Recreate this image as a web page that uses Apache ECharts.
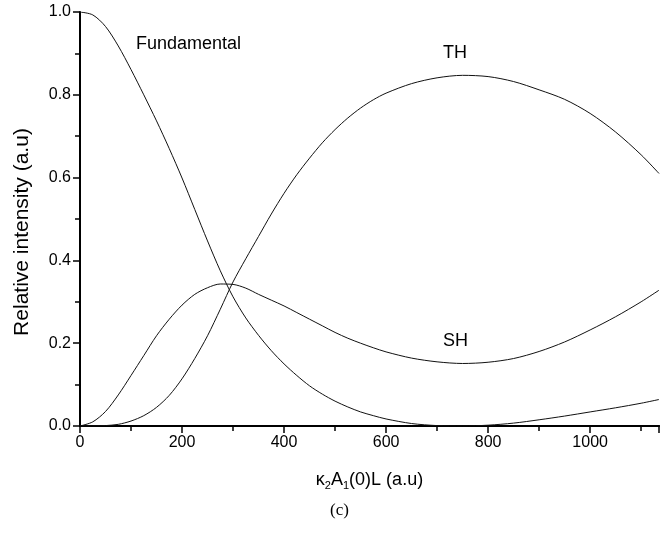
<!DOCTYPE html>
<html>
<head>
<meta charset="utf-8">
<script src="https://cdn.jsdelivr.net/npm/echarts@6/dist/echarts.min.js"></script>
<style>
html,body{margin:0;padding:0;background:#fff;}
#chart{width:662px;height:537px;}
</style>
</head>
<body>
<div id="chart"></div>
<script>
var xValues = [0,25,50,75,100,125,150,175,200,225,250,275,300,325,350,375,400,425,450,475,500,525,550,575,600,650,700,750,800,850,900,950,1000,1050,1100,1135];
var fundamental = [1.000,0.993,0.965,0.918,0.861,0.800,0.737,0.670,0.599,0.523,0.447,0.375,0.312,0.261,0.219,0.182,0.150,0.122,0.097,0.077,0.060,0.046,0.034,0.025,0.017,0.006,0.001,0.000,0.002,0.007,0.015,0.024,0.034,0.044,0.055,0.064];
var sh = [0.000,0.010,0.035,0.075,0.122,0.170,0.218,0.258,0.292,0.318,0.334,0.343,0.342,0.333,0.318,0.304,0.290,0.274,0.258,0.242,0.226,0.212,0.200,0.189,0.179,0.164,0.155,0.151,0.154,0.163,0.180,0.203,0.232,0.264,0.300,0.328];
var th = [0.000,0.000,0.001,0.004,0.012,0.025,0.045,0.074,0.114,0.163,0.218,0.282,0.348,0.404,0.458,0.512,0.562,0.607,0.647,0.684,0.716,0.744,0.768,0.788,0.804,0.827,0.841,0.847,0.844,0.832,0.812,0.789,0.755,0.710,0.655,0.610];
var xTickLabels = ['0','200','400','600','800','1000'];
var yTickLabels = ['0.0','0.2','0.4','0.6','0.8','1.0'];
var curveLabels = ['Fundamental','TH','SH'];
var yAxisTitle = 'Relative intensity (a.u)';

function pairs(ys){ return xValues.map(function(x,i){ return [x, ys[i]]; }); }

var FONT = '"Liberation Sans", Arial, sans-serif';
var chart = echarts.init(document.getElementById('chart'), null, {renderer:'canvas'});
var lineStyle = {color:'#111', width:1};
chart.setOption({
  animation:false,
  backgroundColor:'#fff',
  grid:{left:80, right:0, top:12, bottom:111, containLabel:false},
  xAxis:[{
    type:'value', min:0, max:1135, interval:200,
    name:'κ{sub|2}A{sub|1}(0)L (a.u)',
    nameLocation:'middle', nameGap:43,
    nameTextStyle:{color:'#000', fontFamily:FONT, fontSize:18, lineHeight:22,
      rich:{sub:{fontFamily:FONT, fontSize:11, lineHeight:8, verticalAlign:'bottom', color:'#000'}}},
    axisLine:{show:true, onZero:false, lineStyle:{color:'#000', width:2}},
    axisTick:{show:true, inside:false, length:7, lineStyle:{color:'#000', width:1.5}},
    minorTick:{show:true, splitNumber:2, length:5, lineStyle:{color:'#000', width:1.5}},
    axisLabel:{color:'#000', fontFamily:FONT, fontSize:16, margin:9,
      formatter:function(v){ var i = xTickLabels.indexOf(String(v)); return i>=0 ? xTickLabels[i] : ''; }},
    splitLine:{show:false}
  },{
    type:'value', min:0, max:1135, position:'top',
    axisLine:{show:true, lineStyle:{color:'#000', width:2}},
    axisTick:{show:false}, axisLabel:{show:false}, splitLine:{show:false}
  }],
  yAxis:{
    type:'value', min:0, max:1, interval:0.2,
    axisLine:{show:true, onZero:false, lineStyle:{color:'#000', width:2}},
    axisTick:{show:true, inside:false, length:7, lineStyle:{color:'#000', width:1.5}},
    minorTick:{show:true, splitNumber:2, length:5, lineStyle:{color:'#000', width:1.5}},
    axisLabel:{color:'#000', fontFamily:FONT, fontSize:16, margin:9,
      formatter:function(v){ return yTickLabels[Math.round(v/0.2)]; }},
    splitLine:{show:false}
  },
  series:[
    {name:'Fundamental', type:'line', data:pairs(fundamental), smooth:0.3, showSymbol:false, lineStyle:lineStyle, z:3},
    {name:'SH', type:'line', data:pairs(sh), smooth:0.3, showSymbol:false, lineStyle:lineStyle, z:3},
    {name:'TH', type:'line', data:pairs(th), smooth:0.3, showSymbol:false, lineStyle:lineStyle, z:3}
  ],
  graphic:[
    {type:'text', x:22, y:232, rotation:Math.PI/2, style:{text:yAxisTitle, font:'21px '+FONT, fill:'#000', align:'center', verticalAlign:'middle'}},
    {type:'text', left:136, top:35, style:{text:curveLabels[0], font:'18px '+FONT, fill:'#000'}},
    {type:'text', left:443, top:44, style:{text:curveLabels[1], font:'18px '+FONT, fill:'#000'}},
    {type:'text', left:443, top:332, style:{text:curveLabels[2], font:'18px '+FONT, fill:'#000'}},
    {type:'text', left:330, top:502, style:{text:'(c)', font:'17px "Liberation Serif", "Times New Roman", serif', fill:'#000'}}
  ]
});
</script>
</body>
</html>
